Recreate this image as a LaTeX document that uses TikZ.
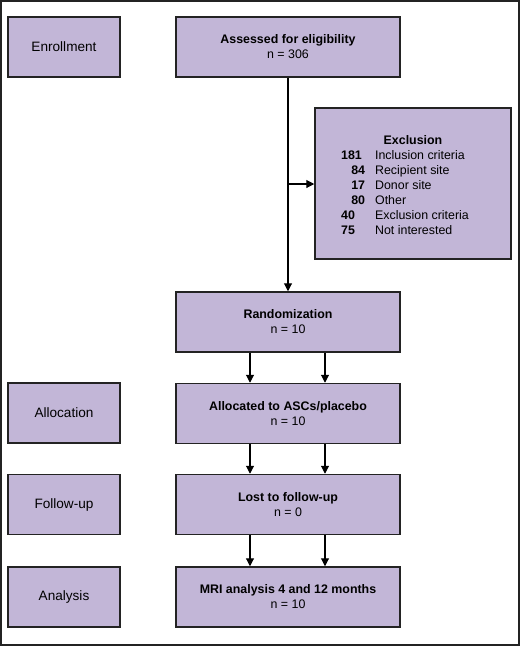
\documentclass[tikz,border=0pt]{standalone}
\usepackage{fontspec}
\setmainfont{Liberation Sans}
\usetikzlibrary{arrows.meta}
\definecolor{lavender}{RGB}{194,182,215}
\definecolor{framegray}{RGB}{35,35,35}

\newcommand{\numl}[1]{\makebox[24pt][l]{\textbf{#1}}}
\newcommand{\numr}[1]{\makebox[24pt][r]{\textbf{#1}}}

\begin{document}
\begin{tikzpicture}[x=1pt, y=-1pt,
    stepbox/.style={draw=framegray, line width=1.5pt, fill=lavender, align=center,
        font=\fontsize{12.4}{15}\selectfont, inner sep=0pt},
    phasebox/.style={stepbox, minimum width=112pt, minimum height=60pt,
        font=\fontsize{13.6}{15}\selectfont},
    mainbox/.style={stepbox, minimum width=224pt, minimum height=60pt},
    arr/.style={line width=1.1pt, -{Triangle[width=8pt,length=8pt]}}]
    % Frame
    \useasboundingbox (0,0) rectangle (520,646);
    \draw[framegray, line width=2pt] (1,1) rectangle (519,645);

    % Phase labels
    \node[phasebox] (enroll) at (64,47) {Enrollment};
    \node[phasebox] (alloclabel) at (64,413) {Allocation};
    \node[phasebox] (followlabel) at (64,504.5) {Follow-up};
    \node[phasebox] (analysislabel) at (64,597) {Analysis};

    % Main flow
    \node[mainbox] (assessed) at (288,47) {\textbf{Assessed for eligibility}\\n = 306};
    \node[mainbox] (random) at (288,322) {\textbf{Randomization}\\n = 10};
    \node[mainbox] (allocated) at (288,413.5) {\textbf{Allocated to ASCs/placebo}\\n = 10};
    \node[mainbox] (lost) at (288,504.5) {\textbf{Lost to follow-up}\\n = 0};
    \node[mainbox] (mri) at (288,597) {\textbf{MRI analysis 4 and 12 months}\\n = 10};

    % Exclusion
    \node[stepbox, minimum width=196pt, minimum height=151pt] (excl) at (413,183.5)
        {\rule{0pt}{16pt}\textbf{Exclusion}\\[3pt]
         \begin{tabular}{@{}l@{\hspace{10pt}}l@{}}
         \numl{181} & Inclusion criteria\\
         \numr{84} & Recipient site\\
         \numr{17} & Donor site\\
         \numr{80} & Other\\
         \numl{40} & Exclusion criteria\\
         \numl{75} & Not interested
         \end{tabular}\hspace*{16pt}};

    % Arrows
    \coordinate (branch) at (288,184);
    \draw[arr] (assessed) -- (random);
    \draw[arr] (branch) -- (branch -| excl.west);
    \draw[arr] ([xshift=-38pt]random.south) -- ([xshift=-38pt]allocated.north);
    \draw[arr] ([xshift=37pt]random.south) -- ([xshift=37pt]allocated.north);
    \draw[arr] ([xshift=-38pt]allocated.south) -- ([xshift=-38pt]lost.north);
    \draw[arr] ([xshift=37pt]allocated.south) -- ([xshift=37pt]lost.north);
    \draw[arr] ([xshift=-38pt]lost.south) -- ([xshift=-38pt]mri.north);
    \draw[arr] ([xshift=37pt]lost.south) -- ([xshift=37pt]mri.north);
\end{tikzpicture}
\end{document}
